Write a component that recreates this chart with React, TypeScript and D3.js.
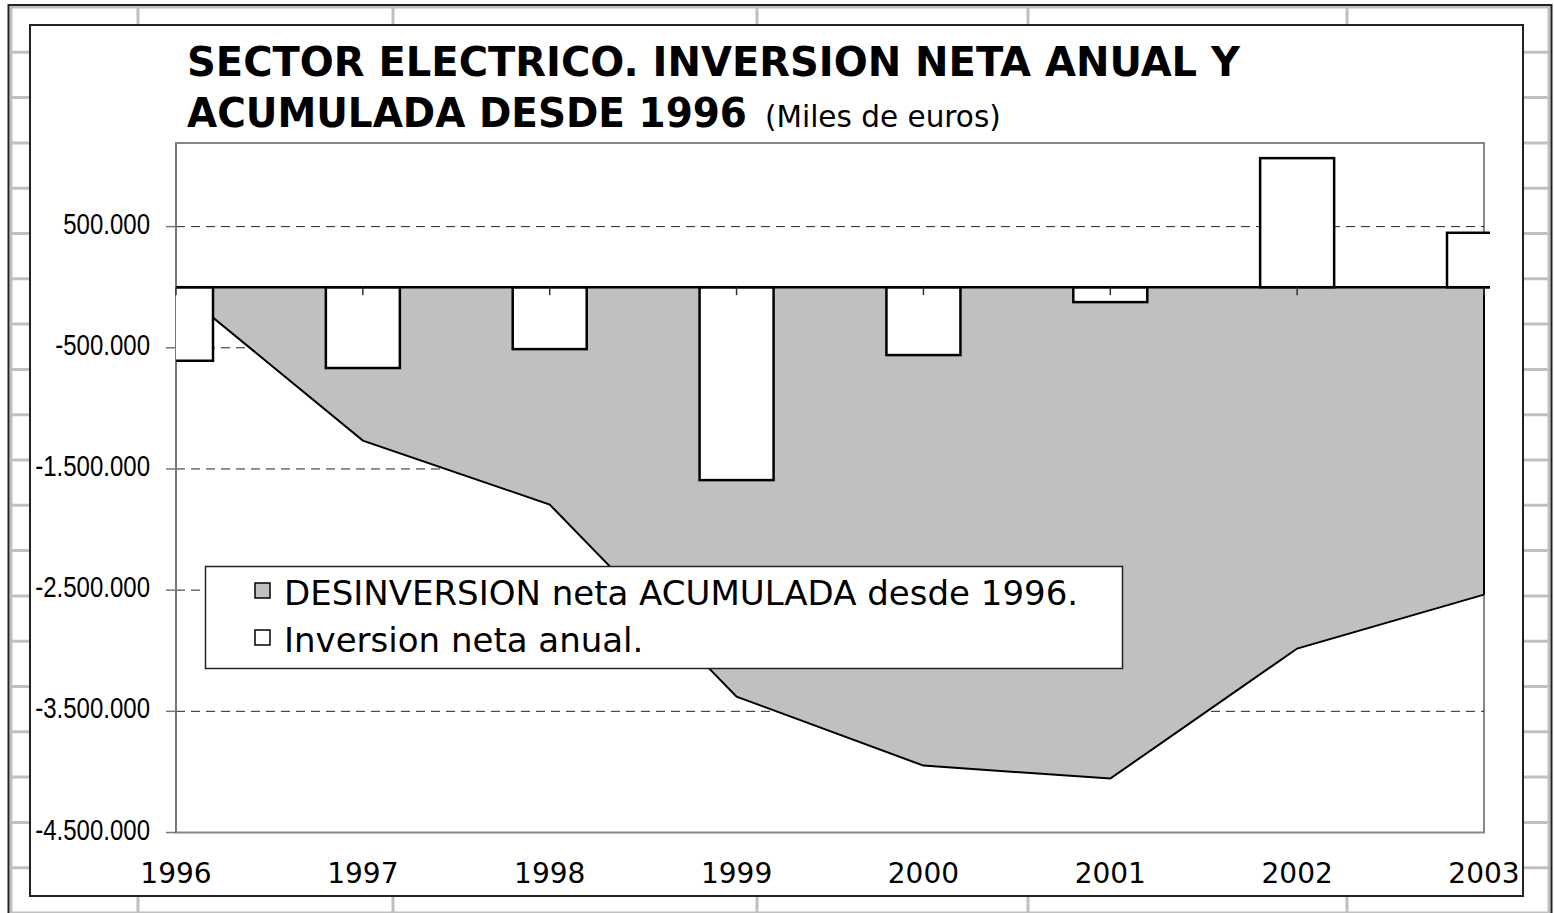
import React from "react";
import * as d3 from "d3";

const years = ["1996", "1997", "1998", "1999", "2000", "2001", "2002", "2003"];
// Inversion neta anual (miles de euros)
const annual = [-607000, -667000, -511000, -1592000, -560000, -123000, 1065000, 449000];
// Desinversion neta acumulada desde 1996
const cumulative = [0, -1266000, -1794000, -3379000, -3948000, -4055000, -2982000, -2537000];
const yTicks = [500000, -500000, -1500000, -2500000, -3500000, -4500000];
const legendItems = [
  { label: "DESINVERSION neta ACUMULADA desde 1996.", fill: "#c0c0c0" },
  { label: "Inversion neta anual.", fill: "#ffffff" },
];

const W = 1554;
const H = 913;
const plot = { left: 176, right: 1484, top: 143, bottom: 832.5 };
const barWidth = 74;

const fmt = (v: number) => {
  const s = Math.abs(v)
    .toString()
    .replace(/\B(?=(\d{3})+(?!\d))/g, ".");
  return (v < 0 ? "-" : "") + s;
};

export default function App() {
  const x = d3.scalePoint<string>().domain(years).range([plot.left, plot.right]);
  const y = d3.scaleLinear().domain([-4500000, 1190000]).range([plot.bottom, plot.top]);
  const y0 = y(0);

  const area = d3
    .area<number>()
    .x((_, i) => x(years[i]) as number)
    .y0(y0)
    .y1((d) => y(d));
  const line = d3
    .line<number>()
    .x((_, i) => x(years[i]) as number)
    .y((d) => y(d));

  // spreadsheet grid behind the chart
  const colLines = [11, 138, 393, 757, 1028, 1347, 1549];
  const rowLines = d3.range(0, 21).map((k) => 7 + 45.3 * k);

  const font = "'DejaVu Sans', Verdana, sans-serif";

  return (
    <svg
      width={W}
      height={H}
      viewBox={`0 0 ${W} ${H}`}
      style={{ position: "absolute", left: 0, top: 0, background: "#fff" }}
    >
      <defs>
        <clipPath id="plotClip">
          <rect x={plot.left} y={plot.top} width={1490 - plot.left} height={plot.bottom - plot.top} />
        </clipPath>
      </defs>

      {/* sheet grid */}
      <g stroke="#c0c0c0" strokeWidth={3}>
        {colLines.map((cx) => (
          <line key={`c-${cx}`} x1={cx} x2={cx} y1={7} y2={H} />
        ))}
        {rowLines.map((ry) => (
          <line key={`r-${ry}`} x1={10} x2={1551} y1={ry} y2={ry} />
        ))}
      </g>
      <rect x={8.5} y={5} width={1543} height={H + 20} fill="none" stroke="#222" strokeWidth={2} />

      {/* chart area */}
      <rect x={30} y={25} width={1493} height={871} fill="#fff" stroke="#222" strokeWidth={2} />

      {/* title */}
      <text x={187} y={76} fontFamily={font} fontWeight="bold" fontSize={40}>
        SECTOR ELECTRICO. INVERSION NETA ANUAL Y
      </text>
      <text
        x={187}
        y={127}
        fontFamily={font}
        fontWeight="bold"
        fontSize={40}
        textLength={560}
        lengthAdjust="spacingAndGlyphs"
      >
        ACUMULADA DESDE 1996
      </text>
      <text x={765} y={127} fontFamily={font} fontSize={29.5}>
        (Miles de euros)
      </text>

      {/* plot area */}
      <rect
        x={plot.left}
        y={plot.top}
        width={plot.right - plot.left}
        height={plot.bottom - plot.top}
        fill="#fff"
        stroke="#888"
        strokeWidth={2}
      />

      {/* gridlines */}
      {yTicks.slice(0, -1).map((t) => (
        <line
          key={`g-${t}`}
          x1={plot.left}
          x2={plot.right}
          y1={y(t)}
          y2={y(t)}
          stroke="#222"
          strokeWidth={1}
          strokeDasharray="9,6"
        />
      ))}

      {/* accumulated area */}
      <path d={area(cumulative) || ""} fill="#c0c0c0" stroke="none" />
      <path d={line(cumulative) || ""} fill="none" stroke="#000" strokeWidth={2} />
      <line
        x1={plot.right}
        x2={plot.right}
        y1={y0}
        y2={y(cumulative[cumulative.length - 1])}
        stroke="#000"
        strokeWidth={2}
      />

      {/* y axis */}
      <line x1={plot.left} x2={plot.left} y1={plot.top} y2={plot.bottom} stroke="#777" strokeWidth={2} />
      {yTicks.map((t) => (
        <g key={`yt-${t}`}>
          <line x1={166} x2={plot.left} y1={y(t)} y2={y(t)} stroke="#777" strokeWidth={1.5} />
          <text
            transform={`translate(150,${y(t) + 7}) scale(0.8,1)`}
            textAnchor="end"
            fontFamily="'Liberation Sans', Arial, sans-serif"
            fontSize={30}
            fill="#000"
          >
            {fmt(t)}
          </text>
        </g>
      ))}

      {/* annual bars */}
      <g clipPath="url(#plotClip)">
        {annual.map((v, i) => {
          const cx = x(years[i]) as number;
          return (
            <rect
              key={`b-${years[i]}`}
              x={cx - barWidth / 2}
              y={Math.min(y(v), y0)}
              width={barWidth}
              height={Math.abs(y(v) - y0)}
              fill="#fff"
              stroke="#000"
              strokeWidth={2.5}
            />
          );
        })}
      </g>

      {/* category axis at zero */}
      <line x1={plot.left} x2={1490} y1={y0} y2={y0} stroke="#000" strokeWidth={2.5} />
      {years.map((yr) => (
        <line
          key={`xt-${yr}`}
          x1={x(yr)}
          x2={x(yr)}
          y1={y0}
          y2={y0 + 8}
          stroke="#333"
          strokeWidth={1.5}
        />
      ))}
      {years.map((yr) => (
        <text
          key={`xl-${yr}`}
          x={x(yr)}
          y={883}
          textAnchor="middle"
          fontFamily={font}
          fontSize={28}
          fill="#000"
        >
          {yr}
        </text>
      ))}

      {/* legend */}
      <rect x={205.5} y={566.5} width={917} height={102} fill="#fff" stroke="#222" strokeWidth={1.5} />
      {legendItems.map((item, i) => (
        <g key={`lg-${i}`}>
          <rect
            x={255}
            y={583 + i * 47}
            width={15}
            height={15}
            fill={item.fill}
            stroke="#000"
            strokeWidth={1.5}
          />
          <text x={284} y={605 + i * 47} fontFamily={font} fontSize={34} fill="#000">
            {item.label}
          </text>
        </g>
      ))}
    </svg>
  );
}
